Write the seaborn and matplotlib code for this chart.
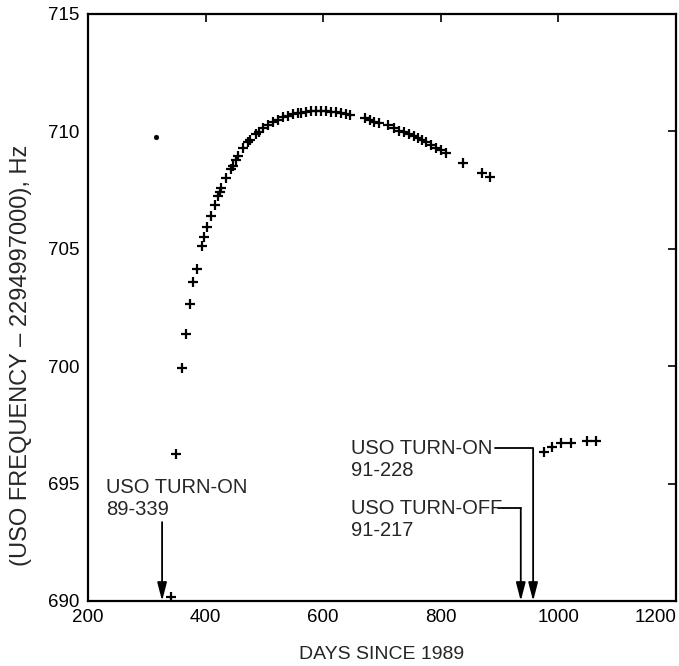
import matplotlib
matplotlib.use("Agg")
import matplotlib.pyplot as plt
import matplotlib.transforms as mtransforms
import seaborn as sns
import pandas as pd

# ---- data ----
days_main = [340.4, 349.4, 359.1, 366.4, 373.2, 378.8, 384.6, 394.1, 397.5, 403.2,
             410.0, 415.6, 421.2, 424.1, 427.0, 435.5, 442.8, 446.7, 451.3, 455.2,
             463.7, 472.2, 476.2, 485.2, 490.8, 497.6, 506.1, 514.6, 523.1, 531.6,
             540.1, 548.6, 557.1, 562.8, 571.1, 579.8, 588.3, 596.8, 605.3, 613.8,
             622.2, 630.7, 639.2, 646.0, 670.3, 678.8, 686.1, 694.1, 709.9, 721.2,
             729.7, 738.2, 746.7, 754.0, 760.8, 768.3, 775.1, 783.5, 792.0, 800.5,
             809.0, 837.2, 870.1, 883.7,
             975.9, 989.0, 1004.3, 1021.2, 1049.4, 1063.7]
freq_main = [690.15, 696.26, 699.91, 701.37, 702.65, 703.57, 704.13, 705.13, 705.51, 705.92,
             706.40, 706.87, 707.25, 707.43, 707.60, 708.00, 708.40, 708.52, 708.78, 708.95,
             709.28, 709.54, 709.63, 709.89, 709.99, 710.13, 710.27, 710.39, 710.49, 710.60,
             710.67, 710.74, 710.80, 710.80, 710.84, 710.87, 710.88, 710.88, 710.87, 710.84,
             710.81, 710.77, 710.74, 710.69, 710.56, 710.49, 710.41, 710.34, 710.27, 710.13,
             710.03, 709.96, 709.88, 709.80, 709.73, 709.63, 709.54, 709.42, 709.31, 709.21,
             709.07, 708.64, 708.24, 708.07,
             696.33, 696.57, 696.72, 696.74, 696.81, 696.81]
days_dot = [315.5]
freq_dot = [709.75]

event_days = [326, 936, 957]
event_labels = ["USO TURN-ON\n89-339", "USO TURN-OFF\n91-217", "USO TURN-ON\n91-228"]

xticks = [200, 400, 600, 800, 1000, 1200]
yticks = [690, 695, 700, 705, 710, 715]

# ---- plot ----
sns.set_style("white")
plt.rcParams["font.family"] = ["Liberation Sans", "DejaVu Sans"]
plt.rcParams["font.size"] = 13

fig = plt.figure(figsize=(6.79, 6.66), dpi=100)
ax = fig.add_axes([0.1296, 0.0976, 0.9956 - 0.1296, 0.979 - 0.0976])

df_main = pd.DataFrame({"days": days_main, "freq": freq_main})
df_dot = pd.DataFrame({"days": days_dot, "freq": freq_dot})
sns.scatterplot(data=df_main, x="days", y="freq", marker="+", s=55, color="black",
                linewidth=1.6, ax=ax, clip_on=False, zorder=3)
sns.scatterplot(data=df_dot, x="days", y="freq", marker="o", s=12, color="black",
                edgecolor="black", ax=ax, zorder=3)

ax.set_xlim(200, 1200)
ax.set_ylim(690, 715)
ax.set_xticks(xticks)
ax.set_yticks(yticks)
ax.tick_params(direction="in", length=6, width=1.2, top=True, right=True,
               labelsize=13.5, pad=6, colors="black")
for sp in ax.spines.values():
    sp.set_linewidth(1.6)
    sp.set_color("black")

# shift the last x tick label left so it stays inside the figure
last = ax.get_xticklabels()[-1]
last.set_transform(last.get_transform() +
                   mtransforms.ScaledTranslation(-20 / 100, 0, fig.dpi_scale_trans))

ax.set_xlabel("DAYS SINCE 1989", fontsize=14, labelpad=14)
ax.set_ylabel("(USO FREQUENCY \u2013 2294997000), Hz", fontsize=17)
ax.yaxis.set_label_coords(-0.096, 0.419)

arrow_kw = dict(arrowstyle="-|>,head_length=0.85,head_width=0.22", color="black",
                lw=1.3, shrinkA=0, shrinkB=0)
fs_ann = 14.5

# left: turn-on 89-339
ax.text(230.6, 694.37, event_labels[0], ha="left", va="center", fontsize=fs_ann,
        linespacing=1.2)
ax.annotate("", xy=(event_days[0], 690), xytext=(event_days[0], 693.36),
            arrowprops=arrow_kw)

# right: turn-off 91-217
ax.text(648, 693.47, event_labels[1], ha="left", va="center", fontsize=fs_ann,
        linespacing=1.2)
ax.plot([898, event_days[1]], [693.95, 693.95], color="black", lw=1.3)
ax.annotate("", xy=(event_days[1], 690), xytext=(event_days[1], 693.95),
            arrowprops=arrow_kw)

# right: turn-on 91-228
ax.text(648, 696.02, event_labels[2], ha="left", va="center", fontsize=fs_ann,
        linespacing=1.2)
ax.plot([893, event_days[2]], [696.5, 696.5], color="black", lw=1.3)
ax.annotate("", xy=(event_days[2], 690), xytext=(event_days[2], 696.5),
            arrowprops=arrow_kw)

fig.savefig("out.png", dpi=100)
